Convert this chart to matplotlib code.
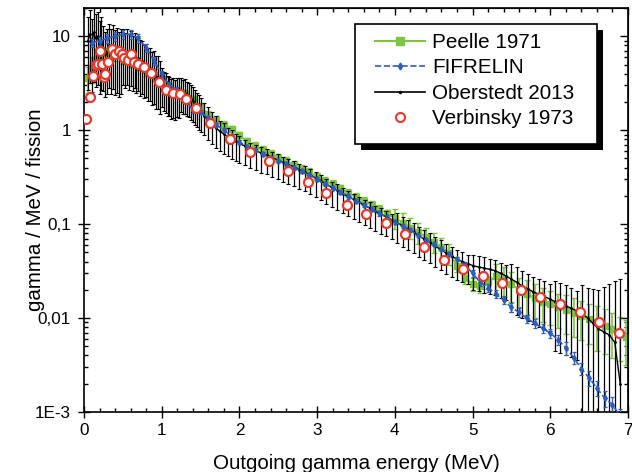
import numpy as np
import matplotlib
matplotlib.use('Agg')
import matplotlib.pyplot as plt
from matplotlib.ticker import FixedLocator, FixedFormatter, MultipleLocator, LogLocator, NullFormatter
from matplotlib.lines import Line2D
from matplotlib.patches import Rectangle

plt.rcParams['font.family'] = ['Liberation Sans', 'DejaVu Sans']

# ---------------- data ----------------
# Oberstedt 2013 (black line with error bars)
obs_E = [0.050, 0.075, 0.100, 0.125, 0.150, 0.175, 0.200, 0.225, 0.250, 0.275, 0.300, 0.325,
         0.350, 0.375, 0.400, 0.425, 0.450, 0.475, 0.500, 0.525, 0.550, 0.575, 0.600, 0.625,
         0.650, 0.675, 0.700, 0.725, 0.750, 0.775, 0.800, 0.825, 0.850, 0.875, 0.900, 0.925,
         0.950, 0.975, 1.000, 1.025, 1.050, 1.075, 1.100, 1.125, 1.150, 1.175, 1.200, 1.225,
         1.250, 1.275, 1.300, 1.325, 1.350, 1.375, 1.400, 1.425, 1.450, 1.475, 1.500,
         1.55, 1.60, 1.65, 1.70, 1.75, 1.80, 1.85, 1.90, 1.95, 2.00,
         2.07, 2.14, 2.21, 2.28, 2.35, 2.42, 2.49, 2.56, 2.63, 2.70, 2.77, 2.84, 2.91, 2.98,
         3.05, 3.12, 3.19, 3.26, 3.33, 3.40, 3.47, 3.54, 3.61, 3.68, 3.75, 3.82, 3.89, 3.96,
         4.03, 4.10, 4.17, 4.24, 4.31, 4.38, 4.45, 4.52, 4.59, 4.66, 4.73, 4.80, 4.87, 4.94,
         5.01, 5.08, 5.15, 5.22, 5.29, 5.36, 5.43, 5.50, 5.57, 5.64, 5.71, 5.78, 5.85, 5.92,
         5.99, 6.06, 6.13, 6.20, 6.27, 6.34, 6.41, 6.48, 6.55, 6.62, 6.69, 6.76, 6.83, 6.90]
obs_y = [9.0, 10.5, 8.5, 11.0, 9.5, 10.0, 8.0, 9.0, 7.5, 6.5, 7.0, 8.0,
         7.0, 7.8, 6.8, 7.2, 6.5, 7.0, 6.8, 6.2, 6.8, 6.0, 6.5, 5.8,
         6.2, 5.6, 5.8, 5.2, 5.4, 4.9, 5.0, 4.5, 4.6, 4.1, 4.2, 3.7,
         3.7, 3.3, 3.2, 2.9, 2.8, 2.6, 2.55, 2.4, 2.45, 2.35, 2.5, 2.45,
         2.6, 2.45, 2.5, 2.35, 2.3, 2.15, 2.05, 1.9, 1.8, 1.68, 1.58,
         1.42, 1.27, 1.15, 1.05, 0.97, 0.91, 0.85, 0.80, 0.76, 0.72,
         0.68, 0.64, 0.61, 0.57, 0.545, 0.51, 0.485, 0.455, 0.43, 0.41, 0.38, 0.36, 0.335, 0.31,
         0.29, 0.265, 0.245, 0.23, 0.21, 0.198, 0.183, 0.171, 0.158, 0.148, 0.137, 0.128, 0.12, 0.111,
         0.104, 0.096, 0.089, 0.083, 0.075, 0.069, 0.064, 0.058, 0.054, 0.049, 0.046, 0.042, 0.040, 0.038,
         0.036, 0.035, 0.034, 0.033, 0.032, 0.030, 0.028, 0.026, 0.024, 0.022, 0.0205, 0.019, 0.018, 0.017,
         0.016, 0.015, 0.0142, 0.0135, 0.0127, 0.0119, 0.0112, 0.0100, 0.0088, 0.0077, 0.0071, 0.0066, 0.0055, 0.0020]
# relative errors (lower / upper)
obs_lo = [0.7, 0.7, 0.7, 0.7, 0.7, 0.7, 0.7, 0.7, 0.65, 0.65, 0.65, 0.65,
          0.65, 0.65, 0.65, 0.65, 0.65, 0.65, 0.55, 0.55, 0.55, 0.55, 0.55, 0.55,
          0.55, 0.55, 0.55, 0.55, 0.55, 0.55, 0.55, 0.55, 0.55, 0.55, 0.55, 0.55,
          0.55, 0.55, 0.45, 0.45, 0.45, 0.45, 0.45, 0.45, 0.45, 0.45, 0.45, 0.45,
          0.4, 0.4, 0.4, 0.4, 0.4, 0.4, 0.4, 0.4, 0.4, 0.4, 0.4,
          0.38, 0.38, 0.38, 0.38, 0.38, 0.38, 0.38, 0.38, 0.38, 0.38,
          0.38, 0.38, 0.38, 0.38, 0.38, 0.38, 0.38, 0.38, 0.38, 0.38, 0.38, 0.38, 0.38, 0.38,
          0.38, 0.38, 0.38, 0.38, 0.38, 0.38, 0.38, 0.38, 0.38, 0.38, 0.38, 0.38, 0.38, 0.38,
          0.4, 0.4, 0.4, 0.4, 0.4, 0.4, 0.4, 0.4, 0.4, 0.4, 0.4, 0.4, 0.4, 0.4,
          0.45, 0.45, 0.45, 0.45, 0.45, 0.45, 0.45, 0.55, 0.55, 0.55, 0.55, 0.55, 0.55, 0.55,
          0.55, 0.7, 0.7, 0.7, 0.7, 0.7, 1.0, 1.1, 1.3, 1.6, 2.0, 2.5, 3.5, 12.0]
obs_hi = [0.8, 0.8, 0.8, 0.8, 0.8, 0.8, 0.8, 0.8, 0.7, 0.7, 0.7, 0.7,
          0.7, 0.7, 0.7, 0.7, 0.7, 0.7, 0.75, 0.75, 0.75, 0.75, 0.75, 0.75,
          0.75, 0.75, 0.75, 0.75, 0.65, 0.65, 0.65, 0.65, 0.65, 0.65, 0.65, 0.65,
          0.65, 0.65, 0.45, 0.45, 0.45, 0.45, 0.45, 0.45, 0.45, 0.45, 0.45, 0.45,
          0.4, 0.4, 0.4, 0.4, 0.4, 0.4, 0.4, 0.4, 0.4, 0.4, 0.4,
          0.38, 0.38, 0.35, 0.35, 0.3, 0.3, 0.25, 0.25, 0.2, 0.2,
          0.15, 0.15, 0.15, 0.15, 0.15, 0.15, 0.15, 0.15, 0.15, 0.15, 0.15, 0.15, 0.15, 0.15,
          0.15, 0.15, 0.15, 0.15, 0.15, 0.15, 0.15, 0.15, 0.15, 0.15, 0.15, 0.15, 0.15, 0.15,
          0.25, 0.25, 0.25, 0.25, 0.25, 0.25, 0.25, 0.25, 0.25, 0.25, 0.25, 0.25, 0.25, 0.25,
          0.3, 0.3, 0.3, 0.3, 0.3, 0.3, 0.3, 0.45, 0.45, 0.45, 0.45, 0.45, 0.45, 0.45,
          0.45, 0.65, 0.65, 0.65, 0.65, 0.65, 1.0, 1.1, 1.3, 1.6, 2.0, 2.5, 3.5, 12.0]

# Peelle 1971 (green squares)
pee_E = [0.05, 0.10, 0.15, 0.20, 0.30, 0.40, 0.50, 0.60, 0.70, 0.80, 0.90, 1.00, 1.10, 1.20,
         1.30, 1.40, 1.50, 1.60, 1.70, 1.80, 1.90, 2.00, 2.10, 2.20, 2.30, 2.40, 2.50, 2.60,
         2.70, 2.80, 2.90, 3.00, 3.10, 3.20, 3.30, 3.40, 3.50, 3.60, 3.70, 3.80, 3.90, 4.00,
         4.10, 4.20, 4.30, 4.40, 4.50, 4.60, 4.70, 4.80, 4.90, 5.00, 5.10, 5.20, 5.30, 5.40,
         5.50, 5.60, 5.70, 5.80, 5.90, 6.00, 6.10, 6.20, 6.30, 6.40, 6.50, 6.60, 6.70, 6.80,
         6.90, 6.98]
pee_y = [3.6, 4.6, 5.6, 6.0, 6.6, 6.4, 6.0, 5.6, 5.1, 4.4, 3.9, 3.5, 2.9, 2.6,
         2.45, 2.1, 1.75, 1.45, 1.28, 1.15, 1.02, 0.88, 0.76, 0.68, 0.61, 0.56, 0.51, 0.47,
         0.43, 0.39, 0.36, 0.32, 0.29, 0.265, 0.24, 0.215, 0.195, 0.177, 0.16, 0.145, 0.13, 0.117,
         0.104, 0.092, 0.082, 0.073, 0.065, 0.057, 0.049, 0.036, 0.027, 0.023, 0.022, 0.024, 0.028, 0.026,
         0.023, 0.020, 0.018, 0.0165, 0.015, 0.014, 0.013, 0.0122, 0.0113, 0.0105, 0.0097, 0.0090, 0.0083, 0.0076,
         0.0069, 0.0063]
pee_rel = [0.3, 0.3, 0.3, 0.25, 0.15, 0.15, 0.15, 0.15, 0.15, 0.15, 0.15, 0.1, 0.1, 0.1,
           0.1, 0.1, 0.1, 0.1, 0.1, 0.1, 0.1, 0.1, 0.1, 0.1, 0.1, 0.1, 0.1, 0.1,
           0.1, 0.1, 0.1, 0.1, 0.1, 0.1, 0.1, 0.1, 0.1, 0.1, 0.1, 0.1, 0.1, 0.25,
           0.25, 0.25, 0.25, 0.25, 0.25, 0.25, 0.25, 0.15, 0.15, 0.15, 0.15, 0.15, 0.35, 0.35,
           0.35, 0.35, 0.4, 0.4, 0.4, 0.4, 0.4, 0.45, 0.45, 0.45, 0.45, 0.5, 0.5, 0.5,
           0.5, 0.5]

# FIFRELIN (blue dashed)
fif_E = [0.1, 0.2, 0.3, 0.4, 0.5, 0.6, 0.7, 0.8, 0.9, 1.0, 1.1, 1.2, 1.3, 1.4, 1.5, 1.6, 1.7,
         1.8, 1.9, 2.0, 2.1, 2.2, 2.3, 2.4, 2.5, 2.6, 2.7, 2.8, 2.9, 3.0, 3.1, 3.2, 3.3, 3.4,
         3.5, 3.6, 3.7, 3.8, 3.9, 4.0, 4.1, 4.2, 4.3, 4.4, 4.5, 4.6, 4.7, 4.8, 4.9, 5.0, 5.1,
         5.2, 5.3, 5.4, 5.5, 5.6, 5.7, 5.8, 5.9, 6.0, 6.1, 6.2, 6.3, 6.4, 6.5, 6.6, 6.7, 6.8, 6.9]
fif_y = [8.5, 9.0, 9.5, 10.0, 10.5, 10.5, 9.5, 7.5, 5.5, 4.0, 3.0, 2.7, 2.1, 1.65, 1.55, 1.35, 1.15,
         1.0, 0.86, 0.75, 0.67, 0.61, 0.56, 0.51, 0.47, 0.44, 0.40, 0.365, 0.335, 0.30, 0.27, 0.245, 0.22, 0.197,
         0.178, 0.16, 0.145, 0.13, 0.118, 0.106, 0.096, 0.086, 0.076, 0.068, 0.061, 0.054, 0.048, 0.043, 0.037, 0.030, 0.024,
         0.021, 0.018, 0.0155, 0.013, 0.0115, 0.0099, 0.0088, 0.0078, 0.0069, 0.0059, 0.0048, 0.0038, 0.0029, 0.0023, 0.0018, 0.0014, 0.0012, 0.0009]
fif_rel = [0.1, 0.1, 0.1, 0.1, 0.1, 0.1, 0.1, 0.1, 0.1, 0.08, 0.08, 0.08, 0.08, 0.08, 0.05, 0.05, 0.05,
           0.05, 0.05, 0.05, 0.05, 0.05, 0.05, 0.05, 0.05, 0.05, 0.05, 0.05, 0.05, 0.05, 0.05, 0.05, 0.05, 0.05,
           0.05, 0.05, 0.05, 0.05, 0.05, 0.05, 0.05, 0.05, 0.05, 0.05, 0.05, 0.05, 0.05, 0.05, 0.05, 0.08, 0.08,
           0.1, 0.1, 0.1, 0.1, 0.1, 0.1, 0.1, 0.1, 0.12, 0.12, 0.15, 0.15, 0.15, 0.18, 0.18, 0.2, 0.2, 0.2]

# Verbinsky 1973 (open red circles)
ver_E = [0.03, 0.08, 0.12, 0.16, 0.18, 0.21, 0.23, 0.26, 0.27, 0.31, 0.36, 0.40, 0.45, 0.49,
         0.51, 0.56, 0.61, 0.64, 0.70, 0.77, 0.86, 0.96, 1.05, 1.15, 1.23, 1.31, 1.44, 1.62,
         1.88, 2.14, 2.38, 2.63, 2.88, 3.12, 3.38, 3.63, 3.88, 4.13, 4.38, 4.63, 4.88, 5.13,
         5.38, 5.62, 5.87, 6.13, 6.38, 6.63, 6.88]
ver_y = [1.33, 2.25, 3.75, 4.9, 5.1, 6.9, 5.1, 3.65, 3.95, 5.3, 7.3, 6.5, 6.9, 6.4,
         5.8, 5.6, 6.4, 5.3, 5.1, 4.7, 4.1, 3.3, 2.7, 2.48, 2.4, 2.16, 1.71, 1.18,
         0.80, 0.59, 0.47, 0.37, 0.284, 0.217, 0.16, 0.128, 0.102, 0.079, 0.057, 0.042, 0.033, 0.0278,
         0.0234, 0.020, 0.0169, 0.0141, 0.0115, 0.0091, 0.0070]

legend_labels = ['Peelle 1971', 'FIFRELIN', 'Oberstedt 2013', 'Verbinsky 1973']
y_tick_vals = [1e-3, 1e-2, 1e-1, 1, 10]
y_tick_labels = ['1E-3', '0,01', '0,1', '1', '10']
x_tick_vals = [0, 1, 2, 3, 4, 5, 6, 7]

# ---------------- plot ----------------
GREEN = '#7CC540'
BLUE = '#2F5DB8'
RED = '#E33A2E'

W, H = 632, 472
fig = plt.figure(figsize=(W / 100, H / 100), dpi=100)
ax_l, ax_b, ax_w, ax_h = 84, 60, 544, 404
ax = fig.add_axes([ax_l / W, ax_b / H, ax_w / W, ax_h / H])
ax.set_yscale('log')
ax.set_xlim(0, 7)
ax.set_ylim(1e-3, 20)

py = np.array(pee_y)
ax.errorbar(pee_E, py, yerr=py * np.array(pee_rel), color=GREEN, lw=1.2, marker='s', ms=4,
            mec=GREEN, ecolor=GREEN, elinewidth=1.2, capsize=2, capthick=1.0, zorder=2)

oy = np.array(obs_y)
lo = oy * np.minimum(np.array(obs_lo), 0.9995)
hi = oy * np.array(obs_hi)
ax.errorbar(obs_E, oy, yerr=[lo, hi], color='k', lw=1.0, marker='.', ms=2,
            ecolor='k', elinewidth=0.9, capsize=1.5, capthick=0.8, zorder=3)

fy = np.array(fif_y)
ax.errorbar(fif_E, fy, yerr=fy * np.array(fif_rel), color=BLUE, lw=1.2, ls='--', marker='d', ms=3,
            ecolor=BLUE, elinewidth=0.9, capsize=1.5, capthick=0.9, zorder=4)

ax.plot(ver_E, ver_y, ls='none', marker='o', ms=6.5, mfc='white', mec=RED, mew=1.6, zorder=4.5)

# ticks
ax.yaxis.set_major_locator(FixedLocator(y_tick_vals))
ax.yaxis.set_major_formatter(FixedFormatter(y_tick_labels))
ax.yaxis.set_minor_locator(LogLocator(base=10, subs=np.arange(2, 10), numticks=20))
ax.yaxis.set_minor_formatter(NullFormatter())
ax.set_xticks(x_tick_vals)
ax.set_xticklabels([str(v) for v in x_tick_vals])
ax.xaxis.set_minor_locator(MultipleLocator(0.2))
ax.tick_params(which='major', direction='inout', length=8, width=1.0, labelsize=12.3)
ax.tick_params(which='minor', direction='in', length=3, width=1.0)
ax.tick_params(axis='x', which='major', pad=4.0)
ax.tick_params(axis='y', which='major', pad=5.5)
for s in ax.spines.values():
    s.set_linewidth(1.2)

secx = ax.secondary_xaxis('top')
secx.set_xticks(x_tick_vals)
secx.xaxis.set_minor_locator(MultipleLocator(0.2))
secx.tick_params(which='both', direction='in', labeltop=False, width=1.0)
secx.tick_params(which='major', length=5)
secx.tick_params(which='minor', length=3)

secy = ax.secondary_yaxis('right')
secy.yaxis.set_major_locator(FixedLocator(y_tick_vals))
secy.yaxis.set_minor_locator(LogLocator(base=10, subs=np.arange(2, 10), numticks=20))
secy.yaxis.set_major_formatter(NullFormatter())
secy.yaxis.set_minor_formatter(NullFormatter())
secy.tick_params(which='both', direction='in', labelright=False, width=1.0)
secy.tick_params(which='major', length=6)
secy.tick_params(which='minor', length=3)

ax.set_xlabel('Outgoing gamma energy (MeV)', fontsize=14.8)
ax.set_ylabel('gamma / MeV / fission', fontsize=14.8)
ax.xaxis.set_label_coords(0.5, -0.103)
ax.yaxis.set_label_coords(-0.072, 0.5)

# legend box (pixel positions of the frame in the figure, top-left origin)
box_x0, box_y0, box_x1, box_y1 = 355, 24, 597, 144
def to_ax(px, py_):
    return ((px - ax_l) / ax_w, ((H - py_) - ax_b) / ax_h)
bx0, by0 = to_ax(box_x0, box_y1)
bx1, by1 = to_ax(box_x1, box_y0)
sh = 6
ax.add_artist(Rectangle((bx0 + sh / ax_w, by0 - sh / ax_h), bx1 - bx0, by1 - by0,
                        transform=ax.transAxes, facecolor='k', edgecolor='none', zorder=5.5,
                        clip_on=False))
ax.add_artist(Rectangle((bx0, by0), bx1 - bx0, by1 - by0, transform=ax.transAxes,
                        facecolor='white', edgecolor='k', lw=1.2, zorder=5.6, clip_on=False))

handles = [Line2D([], [], color=GREEN, lw=1.5, marker='s', ms=6),
           Line2D([], [], color=BLUE, lw=1.2, ls='--', marker='d', ms=3.5),
           Line2D([], [], color='k', lw=1.2, marker='.', ms=3),
           Line2D([], [], ls='none', marker='o', ms=6.5, mfc='white', mec=RED, mew=1.5)]
ax_anchor = to_ax(375, 33)
leg = ax.legend(handles, legend_labels, loc='upper left', bbox_to_anchor=ax_anchor,
                frameon=False, fontsize=14.9, handlelength=2.4, handletextpad=0.35,
                labelspacing=0.31, borderpad=0, borderaxespad=0)
leg.set_zorder(6)

fig.savefig('out.png', dpi=100)
